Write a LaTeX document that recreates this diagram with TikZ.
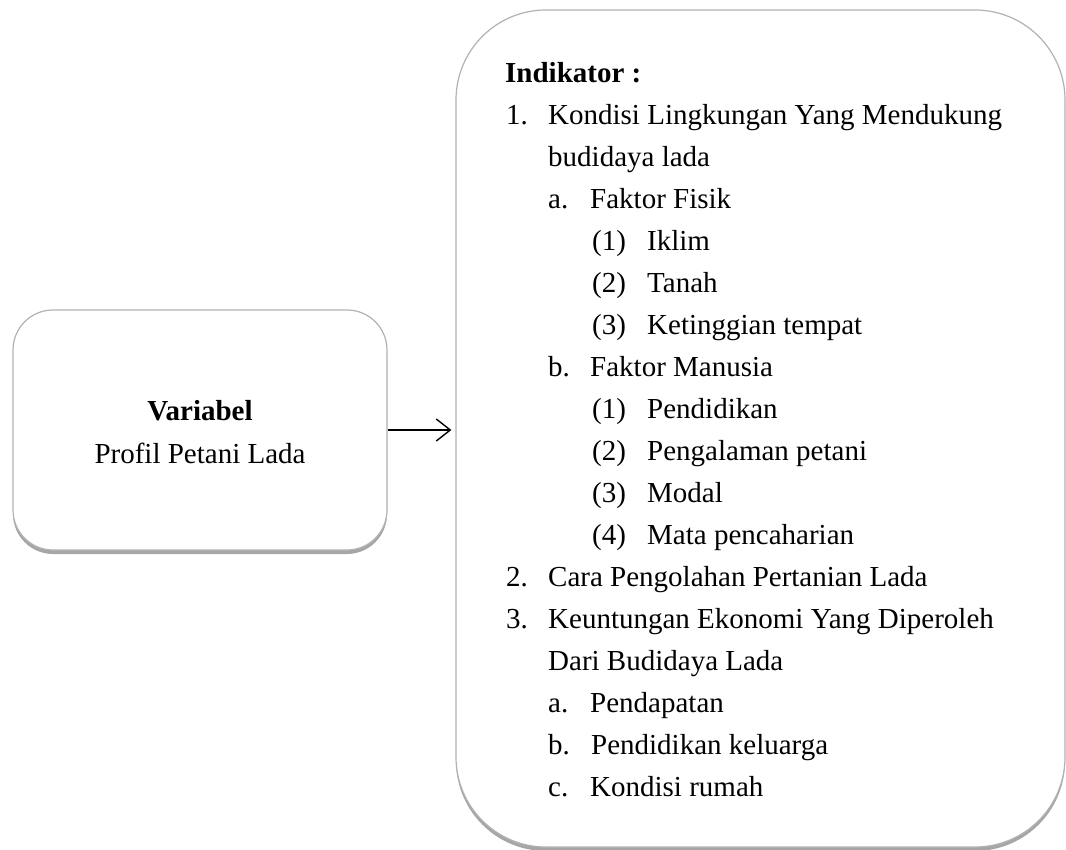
\documentclass[tikz,border=0pt]{standalone}
\usepackage{fontspec}
\setmainfont{Liberation Serif}
\usetikzlibrary{arrows.meta,shadows}

\begin{document}
\begin{tikzpicture}[x=1pt,y=-1pt]
    \tikzset{
        box/.style={rectangle, draw=gray!60, line width=1.2pt, fill=white, inner sep=0pt,
            drop shadow={shadow xshift=0pt, shadow yshift=-4pt, fill=black, opacity=0.35}},
        edge/.style={-{Straight Barb[length=14pt,width=22pt]}, line width=1.4pt},
        txt/.style={anchor=base west, inner sep=0pt, font=\fontsize{29}{35}\selectfont},
        ctxt/.style={txt, anchor=base}
    }
    \useasboundingbox (0,0) rectangle (1066,850);

    % boxes
    \node[box, rounded corners=40pt, minimum width=374pt, minimum height=240pt] (var) at (200,430) {};
    \node[box, rounded corners=90pt, minimum width=609pt, minimum height=837pt] (ind) at (760.5,428.5) {};

    % variable
    \node[ctxt] (vtitle) at (200,420) {\textbf{Variabel}};
    \node[ctxt] (vname) at (200,463) {Profil Petani Lada};

    % indicators
    \node[txt] (i0) at (505,82.7) {\textbf{Indikator :}};
    \node[txt] (i1) at (506,124.7) {\makebox[42pt][l]{1.}Kondisi Lingkungan Yang Mendukung};
    \node[txt] (i2) at (548,166.7) {budidaya lada};
    \node[txt] (i3) at (548,208.7) {\makebox[42pt][l]{a.}Faktor Fisik};
    \node[txt] (i4) at (592,250.7) {\makebox[55pt][l]{(1)}Iklim};
    \node[txt] (i5) at (592,292.7) {\makebox[55pt][l]{(2)}Tanah};
    \node[txt] (i6) at (592,334.7) {\makebox[55pt][l]{(3)}Ketinggian tempat};
    \node[txt] (i7) at (548,376.7) {\makebox[42pt][l]{b.}Faktor Manusia};
    \node[txt] (i8) at (592,418.7) {\makebox[55pt][l]{(1)}Pendidikan};
    \node[txt] (i9) at (592,460.7) {\makebox[55pt][l]{(2)}Pengalaman petani};
    \node[txt] (i10) at (592,502.7) {\makebox[55pt][l]{(3)}Modal};
    \node[txt] (i11) at (592,544.7) {\makebox[55pt][l]{(4)}Mata pencaharian};
    \node[txt] (i12) at (506,586.7) {\makebox[42pt][l]{2.}Cara Pengolahan Pertanian Lada};
    \node[txt] (i13) at (506,628.7) {\makebox[42pt][l]{3.}Keuntungan Ekonomi Yang Diperoleh};
    \node[txt] (i14) at (548,670.7) {Dari Budidaya Lada};
    \node[txt] (i15) at (548,712.7) {\makebox[42pt][l]{a.}Pendapatan};
    \node[txt] (i16) at (548,754.7) {\makebox[43pt][l]{b.}Pendidikan keluarga};
    \node[txt] (i17) at (548,796.7) {\makebox[42pt][l]{c.}Kondisi rumah};

    % edges
    \draw[edge] (var.east) -- ([xshift=-4pt]var.east -| ind.west);
\end{tikzpicture}
\end{document}
